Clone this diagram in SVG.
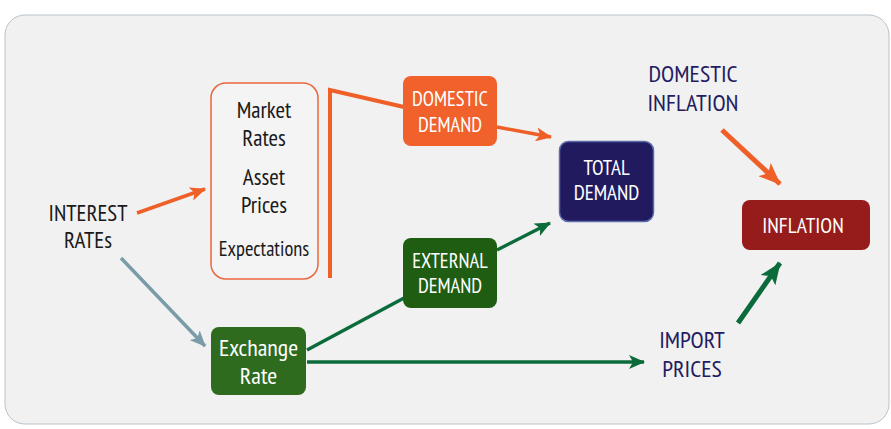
<svg xmlns="http://www.w3.org/2000/svg" width="891" height="429" viewBox="0 0 891 429">
<defs>
<style>
text{font-family:"PT Sans Narrow","DejaVu Sans Condensed","Liberation Sans Narrow","Liberation Sans",sans-serif;text-anchor:middle}
.w{fill:#ffffff;font-size:20.5px}
.n{fill:#241c60;font-size:24px}
.k{fill:#1a1a1a;font-size:23px}
.line{fill:none;stroke-linecap:butt}
.or{stroke:#ee6027}
.gr{stroke:#0c6b3a}
.bl{stroke:#7a9ca8}
</style>
<marker id="aO" markerUnits="userSpaceOnUse" markerWidth="16" markerHeight="14" viewBox="0 0 16 14" refX="15" refY="7" orient="auto"><path d="M0,0 L16,7 L0,14 L4,7 Z" fill="#ee6027"/></marker>
<marker id="aG" markerUnits="userSpaceOnUse" markerWidth="16" markerHeight="14" viewBox="0 0 16 14" refX="15" refY="7" orient="auto"><path d="M0,0 L16,7 L0,14 L4,7 Z" fill="#0c6b3a"/></marker>
<marker id="aB" markerUnits="userSpaceOnUse" markerWidth="16" markerHeight="14" viewBox="0 0 16 14" refX="15" refY="7" orient="auto"><path d="M0,0 L16,7 L0,14 L4,7 Z" fill="#7a9ca8"/></marker>
<marker id="aGb" markerUnits="userSpaceOnUse" markerWidth="22" markerHeight="18" viewBox="0 0 22 18" refX="21" refY="9" orient="auto"><path d="M0,0 L22,9 L0,18 L5,9 Z" fill="#0c6b3a"/></marker>
<marker id="aOb" markerUnits="userSpaceOnUse" markerWidth="22" markerHeight="18" viewBox="0 0 22 18" refX="21" refY="9" orient="auto"><path d="M0,0 L22,9 L0,18 L5,9 Z" fill="#ee6027"/></marker>
</defs>
<rect x="5" y="15" width="884" height="409" rx="20" fill="#f1f1f1" stroke="#b9c3cc" stroke-width="1"/>

<g id="connectors">
<line class="line or" x1="137" y1="213" x2="205" y2="189" stroke-width="3.5" marker-end="url(#aO)"/>
<line class="line bl" x1="121" y1="258" x2="205" y2="346" stroke-width="3.5" marker-end="url(#aB)"/>
<polyline class="line or" points="330,278 330,90 404,107" stroke-width="4"/>
<line class="line or" x1="497" y1="127" x2="551" y2="137" stroke-width="3.5" marker-end="url(#aO)"/>
<line class="line gr" x1="307" y1="350" x2="404" y2="298" stroke-width="3.5"/>
<line class="line gr" x1="497" y1="250" x2="550" y2="223" stroke-width="3.5" marker-end="url(#aG)"/>
<line class="line gr" x1="307" y1="362" x2="644" y2="362" stroke-width="3.5" marker-end="url(#aG)"/>
<line class="line gr" x1="738" y1="323" x2="780" y2="263" stroke-width="5" marker-end="url(#aGb)"/>
<line class="line or" x1="722" y1="130" x2="780" y2="184" stroke-width="5" marker-end="url(#aOb)"/>
</g>

<g id="interest-rates">
<text class="k" x="88" y="221">INTEREST</text>
<text class="k" x="88" y="248">RATEs</text>
</g>

<g id="channels">
<rect x="211" y="83" width="107" height="196" rx="15" fill="#f4f4f4" stroke="#e9673d" stroke-width="1.5"/>
<text class="k" x="264" y="118">Market</text>
<text class="k" x="264" y="146">Rates</text>
<text class="k" x="264" y="185">Asset</text>
<text class="k" x="264" y="213">Prices</text>
<text class="k" x="264" y="256" style="font-size:20.5px">Expectations</text>
</g>

<g id="domestic-demand">
<rect x="403" y="76" width="94" height="70" rx="8" fill="#f0612b"/>
<text class="w" x="450" y="106">DOMESTIC</text>
<text class="w" x="450" y="132">DEMAND</text>
</g>

<g id="total-demand">
<rect x="559.5" y="141.5" width="94" height="80" rx="9" fill="#221a5f" stroke="#5c6caa" stroke-width="1.5"/>
<text class="w" x="606.5" y="175" style="font-size:21px">TOTAL</text>
<text class="w" x="606.5" y="200" style="font-size:21px">DEMAND</text>
</g>

<g id="external-demand">
<rect x="403" y="238" width="94" height="70" rx="8" fill="#1f5d12"/>
<text class="w" x="450" y="268">EXTERNAL</text>
<text class="w" x="450" y="293">DEMAND</text>
</g>

<g id="exchange-rate">
<rect x="211" y="327" width="95" height="68" rx="8" fill="#2e6b1f"/>
<text class="w" x="258.5" y="356" style="font-size:24px">Exchange</text>
<text class="w" x="258.5" y="384" style="font-size:24px">Rate</text>
</g>

<g id="import-prices">
<text class="n" x="692" y="348">IMPORT</text>
<text class="n" x="692" y="377">PRICES</text>
</g>

<g id="domestic-inflation">
<text class="n" x="693" y="82">DOMESTIC</text>
<text class="n" x="693" y="111">INFLATION</text>
</g>

<g id="inflation">
<rect x="742" y="200" width="128" height="50" rx="8" fill="#961b1b"/>
<text class="w" x="803" y="233" style="font-size:21.5px">INFLATION</text>
</g>
</svg>
